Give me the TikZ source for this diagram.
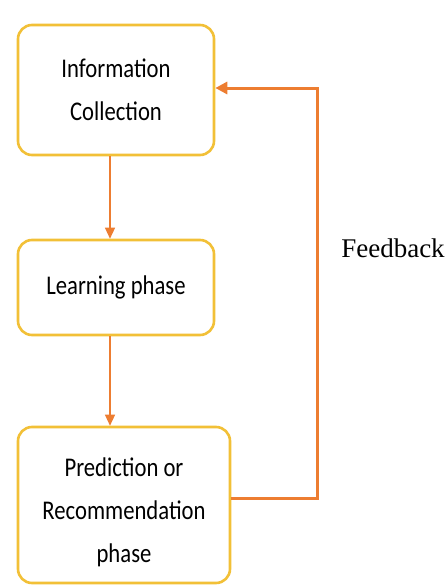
\documentclass[tikz,border=0pt]{standalone}
\usepackage{fontspec}
\setmainfont{Carlito}[FakeStretch=0.84]
\newfontfamily\fbfont{Liberation Serif}
\usepackage{tikz}
\usetikzlibrary{arrows.meta,positioning,calc}
\definecolor{boxline}{RGB}{242,192,55}
\definecolor{flowline}{RGB}{237,125,49}
\tikzset{
  proc/.style ={draw=boxline, line width=2.6pt, rounded corners=14pt, fill=white, align=center,
                font=\fontsize{27}{43}\selectfont, inner sep=4pt},
  flow/.style ={-{Triangle[length=11pt, width=10pt, fill=flowline]}, draw=flowline, line width=1.3pt},
  fback/.style={draw=flowline, line width=3pt, -{Triangle[length=12pt, width=12pt, fill=flowline]}},
  lbl/.style  ={font=\fbfont\fontsize{27}{30}\selectfont, inner sep=0pt}
}

\begin{document}
\begin{tikzpicture}[x=1pt, y=-1pt]
  \useasboundingbox (0,0) rectangle (447,586);
  \node[proc, minimum width=196pt, minimum height=130pt] (info)  at (116,90)    {Information\\Collection};
  \node[proc, minimum width=196pt, minimum height=95pt]  (learn) at (116,287.5) {Learning phase};
  \node[proc, minimum width=212pt, minimum height=156pt] (pred)  at (124,505)   {\rule{0pt}{34pt}Prediction or\\Recommendation\\phase};
  \coordinate (fbdown) at (317,498);
  \coordinate (fbup)   at (317,88);
  \node[lbl] (fbtext) at (393,248) {Feedback};
  \draw[flow] (info.south -| 110,0) -- (learn.north -| 110,0);
  \draw[flow] (learn.south -| 110,0) -- (pred.north -| 110,0);
  \draw[fback] (pred.east |- fbdown) -- (fbdown) -- (fbup) -- (info.east |- fbup);
\end{tikzpicture}
\end{document}
